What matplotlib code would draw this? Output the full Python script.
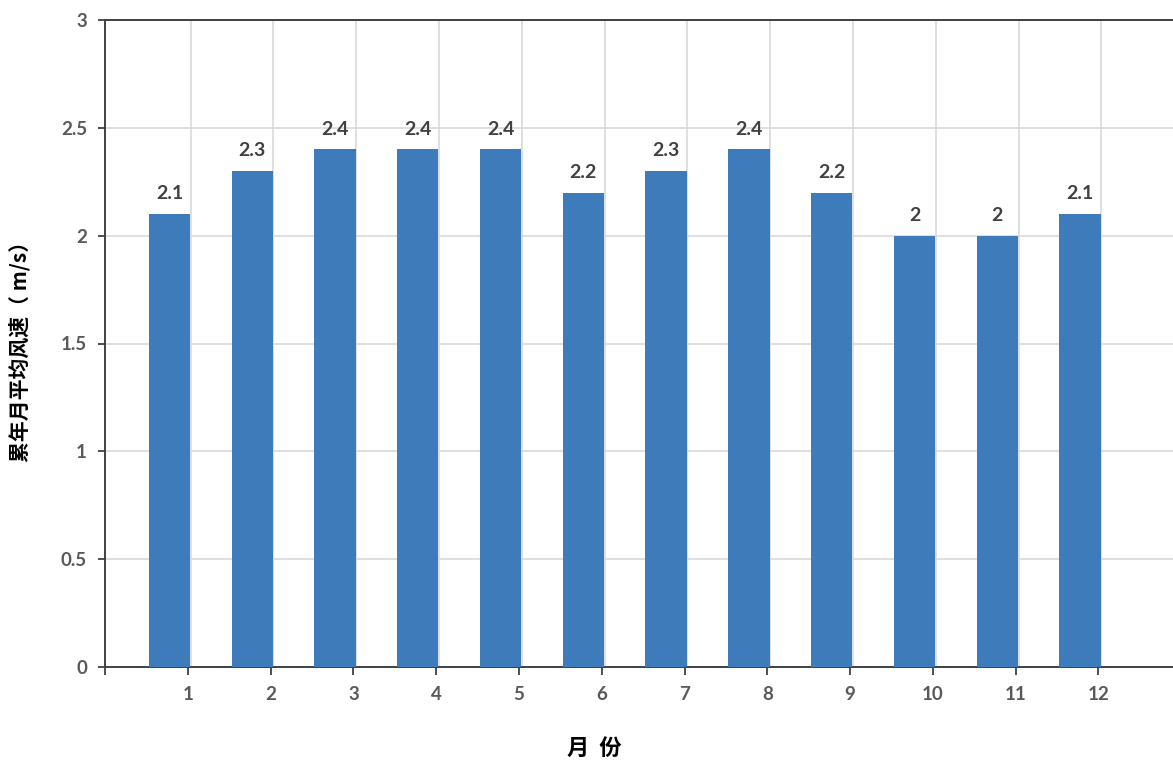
import matplotlib
matplotlib.use("Agg")
import matplotlib.pyplot as plt
import numpy as np

months = [1, 2, 3, 4, 5, 6, 7, 8, 9, 10, 11, 12]
wind = [2.1, 2.3, 2.4, 2.4, 2.4, 2.2, 2.3, 2.4, 2.2, 2.0, 2.0, 2.1]
value_labels = ["2.1", "2.3", "2.4", "2.4", "2.4", "2.2", "2.3", "2.4", "2.2", "2", "2", "2.1"]
yticks = [0, 0.5, 1, 1.5, 2, 2.5, 3]
ytick_labels = ["0", "0.5", "1", "1.5", "2", "2.5", "3"]
xlabel = "月  份"
ylabel = "累年月平均风速（ m/s）"

W, H = 1173, 762
fig = plt.figure(figsize=(W / 100, H / 100), dpi=100)
ax = fig.add_axes([105 / W, (H - 667) / H, (W - 105) / W, (667 - 20) / H])

x = np.array(months, dtype=float)
bar_color = "#3D7BBA"
ax.bar(x - 0.222, wind, width=0.5, color=bar_color, zorder=3)

ax.set_xlim(0, 12.9)
ax.set_ylim(0, 3)

# grid
for yv in yticks[1:]:
    ax.axhline(yv, color="#D9D9D9", lw=1.2, zorder=1)
for xv in x:
    ax.axvline(xv + 0.034, color="#D9D9D9", lw=1.2, zorder=1)

tick_font = dict(family=["Lato", "DejaVu Sans"], weight="bold", size=13.5, color="#595959")

ax.set_yticks(yticks)
ax.set_yticklabels(ytick_labels, fontdict=tick_font)
ax.set_xticks([0] + months)
ax.set_xticklabels([""] + [str(m) for m in months], fontdict=tick_font)
ax.tick_params(axis="y", direction="out", length=5, width=1.3, color="#404040", pad=8)
ax.tick_params(axis="x", direction="out", length=6, width=1.3, color="#404040", pad=8)

for side in ["left", "bottom", "top"]:
    ax.spines[side].set_color("#404040")
    ax.spines[side].set_linewidth(1.4)
ax.spines["right"].set_visible(False)

for xi, v, lab in zip(x, wind, value_labels):
    ax.annotate(lab, (xi - 0.222, v), xytext=(0, 8.5), textcoords="offset points",
                ha="center", va="bottom", family=["Lato", "DejaVu Sans"],
                weight="bold", size=14, color="#404040", zorder=4)

cjk = ["Noto Sans CJK SC", "DejaVu Sans"]
fig.text(594 / W, 1 - 748 / H, xlabel, ha="center", va="center", family=cjk,
         weight="bold", size=16, color="black")
fig.text(20 / W, 1 - 346 / H, ylabel, ha="center", va="center", rotation=90,
         family=cjk, weight="bold", size=15, color="black")

fig.savefig("out.png", dpi=100)
